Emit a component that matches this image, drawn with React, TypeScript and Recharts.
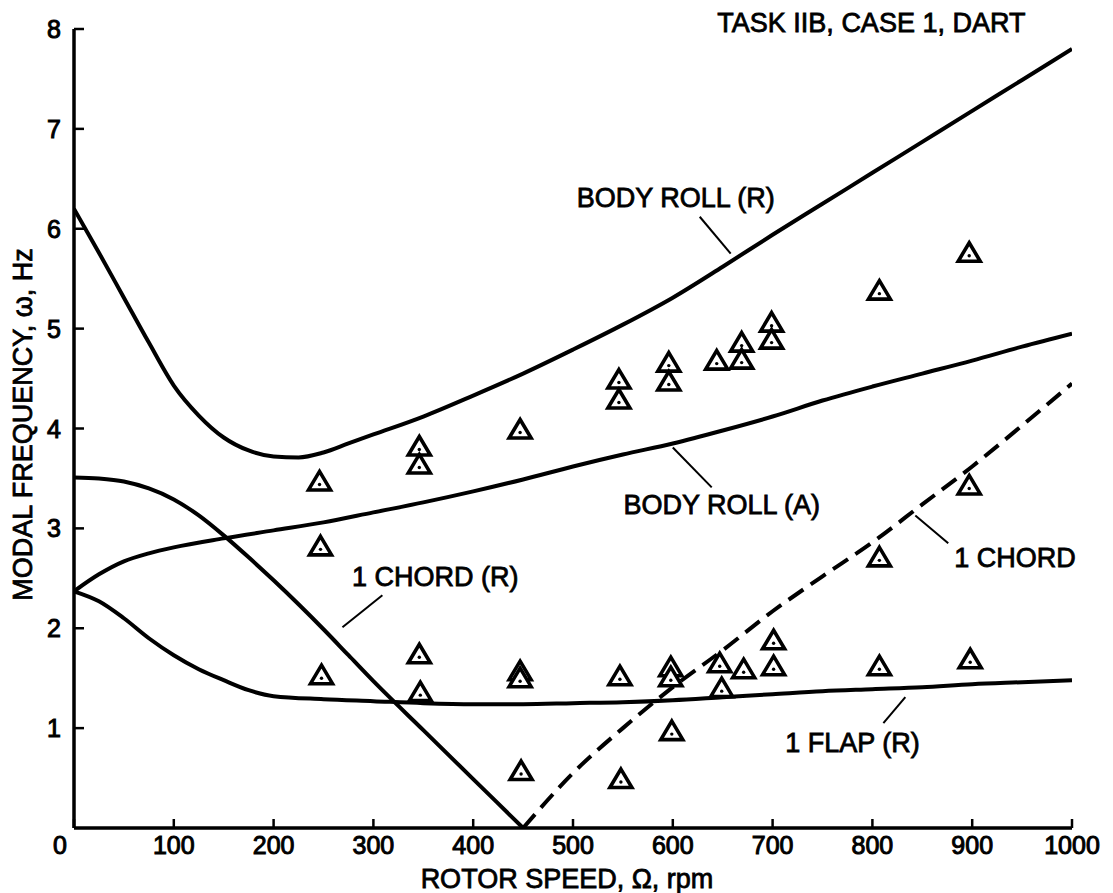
import React from 'react';
import { ComposedChart, Line, Scatter, XAxis, YAxis, ReferenceLine, ReferenceDot } from 'recharts';

const FONT = '"Liberation Sans", Arial, Helvetica, sans-serif';

// Curves (rotor speed rpm -> modal frequency Hz)
const bodyRollRRpm = [0, 25, 50, 75, 100, 125, 150, 175, 200, 225, 250, 275, 300, 350, 400, 450, 500, 550, 600, 650, 700, 750, 800, 850, 900, 950, 1000];
const bodyRollRHz = [6.2, 5.76, 5.31, 4.86, 4.43, 4.13, 3.91, 3.78, 3.72, 3.71, 3.76, 3.85, 3.94, 4.12, 4.33, 4.55, 4.79, 5.04, 5.31, 5.62, 5.94, 6.25, 6.56, 6.87, 7.18, 7.49, 7.8];

const bodyRollARpm = [0, 25, 50, 75, 100, 150, 200, 250, 300, 350, 400, 450, 500, 550, 600, 650, 700, 750, 800, 850, 900, 950, 1000];
const bodyRollAHz = [2.37, 2.54, 2.67, 2.75, 2.81, 2.9, 2.98, 3.06, 3.16, 3.26, 3.37, 3.49, 3.62, 3.74, 3.85, 3.98, 4.12, 4.28, 4.42, 4.55, 4.68, 4.82, 4.95];

const chordRRpm = [0, 25, 50, 75, 100, 125, 150, 175, 200, 225, 250, 275, 300, 350, 400, 450];
const chordRHz = [3.51, 3.5, 3.47, 3.4, 3.29, 3.13, 2.93, 2.71, 2.48, 2.24, 1.99, 1.73, 1.47, 0.98, 0.49, 0];

const chordARpm = [450, 500, 550, 600, 650, 700, 750, 800, 850, 900, 950, 1000];
const chordAHz = [0, 0.55, 1.0, 1.41, 1.78, 2.17, 2.52, 2.86, 3.24, 3.62, 4.03, 4.45];

const flapRRpm = [0, 25, 50, 75, 100, 125, 150, 175, 200, 250, 300, 350, 400, 450, 500, 550, 600, 650, 700, 750, 800, 850, 900, 950, 1000];
const flapRHz = [2.37, 2.27, 2.1, 1.9, 1.73, 1.59, 1.48, 1.38, 1.32, 1.29, 1.27, 1.25, 1.24, 1.24, 1.25, 1.26, 1.28, 1.31, 1.34, 1.37, 1.39, 1.41, 1.44, 1.46, 1.48];

// Test data (triangles)
const testRpm = [246, 247, 248, 346, 346, 346, 347, 447, 447, 447, 448, 546, 546, 547, 548, 596, 596, 598, 598, 599, 644, 647, 649, 669, 669, 671, 699, 699, 701, 701, 807, 807, 807, 897, 897, 898];
const testHz = [3.46, 2.81, 1.52, 3.81, 3.63, 1.73, 1.35, 3.98, 1.56, 1.49, 0.56, 4.48, 4.28, 1.51, 0.48, 4.65, 4.46, 1.6, 1.5, 0.96, 4.67, 1.64, 1.39, 4.85, 4.68, 1.58, 5.05, 4.88, 1.87, 1.61, 5.37, 2.7, 1.61, 5.75, 3.42, 1.68];

const xTicks = [0, 100, 200, 300, 400, 500, 600, 700, 800, 900, 1000];
const yTicks = [1, 2, 3, 4, 5, 6, 7, 8];

// Annotations: label text, label position (rpm, Hz), leader line endpoints
const labelTexts = ['BODY ROLL (R)', 'BODY ROLL (A)', '1 CHORD (R)', '1 CHORD', '1 FLAP (R)'];
const labelRpm = [603, 649, 362, 943, 780];
const labelHz = [6.31, 3.23, 2.51, 2.7, 0.85];
const leaderFrom = [[627, 6.12], [600, 3.81], [309, 2.33], [843, 3.13], [833, 1.31]];
const leaderTo = [[658, 5.75], [639, 3.41], [269, 2.01], [876, 2.85], [811, 1.05]];

const titleText = 'TASK IIB, CASE 1, DART';
const xTitle = 'ROTOR SPEED, \u03A9, rpm';
const yTitle = 'MODAL FREQUENCY, \u03C9, Hz';

// inward tick mark lengths, in axis units
const xTickLen = 0.09;
const yTickLen = 10;

const zip = (xs: number[], ys: number[]) => xs.map((x, i) => ({ x, y: ys[i] }));

const bodyRollR = zip(bodyRollRRpm, bodyRollRHz);
const bodyRollA = zip(bodyRollARpm, bodyRollAHz);
const chordR = zip(chordRRpm, chordRHz);
const chordA = zip(chordARpm, chordAHz);
const flapR = zip(flapRRpm, flapRHz);
const tests = zip(testRpm, testHz);

const textStyle = { fontFamily: FONT, fontSize: 27, fill: '#000', stroke: '#000', strokeWidth: 0.8 };
const tickStyle = { fontFamily: FONT, fontSize: 25, fill: '#000', stroke: '#000', strokeWidth: 1 };

const XTick = (p: any) => {
  const v = p.payload.value;
  return (
    <text x={v === 0 ? p.x - 14 : p.x} y={p.y + 26} textAnchor="middle" {...tickStyle}>
      {v}
    </text>
  );
};

const YTick = (p: any) => (
  <text x={p.x - 13} y={p.y + 9} textAnchor="end" {...tickStyle}>
    {p.payload.value}
  </text>
);

const XTitle = (p: any) => {
  const vb = p.viewBox || { x: 74, y: 828, width: 998, height: 65 };
  return (
    <text x={vb.x + vb.width / 2 - 6} y={vb.y + 60} textAnchor="middle" {...textStyle}>
      {xTitle}
    </text>
  );
};

const YTitle = (p: any) => {
  const vb = p.viewBox || { x: 0, y: 29, width: 74, height: 799 };
  const cx = vb.x + 23;
  const cy = vb.y + vb.height / 2 - 4;
  return (
    <text x={cx} y={cy} textAnchor="middle" dominantBaseline="central" transform={`rotate(-90, ${cx}, ${cy})`} {...textStyle}>
      {yTitle}
    </text>
  );
};

const Triangle = (p: any) => {
  const { cx, cy } = p;
  if (cx == null || cy == null) return null;
  const d = `M ${cx} ${cy - 11} L ${cx + 11} ${cy + 7.5} L ${cx - 11} ${cy + 7.5} Z`;
  return (
    <g>
      <path d={d} fill="#fff" stroke="#000" strokeWidth={3.6} strokeLinejoin="miter" />
      <circle cx={cx} cy={cy + 2} r={1.7} fill="#000" />
    </g>
  );
};

const makeText = (txt: string) => (p: any) => (
  <text x={p.cx} y={p.cy} textAnchor="middle" dominantBaseline="central" {...textStyle}>
    {txt}
  </text>
);

export default function App() {
  return (
    <div style={{ position: 'absolute', left: 0, top: 0, background: '#fff' }}>
      <ComposedChart width={1113} height={893} margin={{ top: 29, right: 41, bottom: 0, left: 0 }}>
        <XAxis dataKey="x" type="number" domain={[0, 1000]} ticks={xTicks} allowDataOverflow height={65}
          axisLine={{ stroke: '#000', strokeWidth: 3.5 }} tickLine={false} tickSize={0} tickMargin={0}
          tick={<XTick />} interval={0} label={<XTitle />} />
        <YAxis dataKey="y" type="number" domain={[0, 8]} ticks={yTicks} allowDataOverflow width={74}
          axisLine={{ stroke: '#000', strokeWidth: 3.5 }} tickLine={false} tickSize={0} tickMargin={0}
          tick={<YTick />} interval={0} label={<YTitle />} />
        {xTicks.map((v) => (
          <ReferenceLine key={'xt' + v} segment={[{ x: v, y: 0 }, { x: v, y: xTickLen }]} stroke="#000" strokeWidth={2.5} ifOverflow="visible" />
        ))}
        {yTicks.map((v) => (
          <ReferenceLine key={'yt' + v} segment={[{ x: 0, y: v }, { x: yTickLen, y: v }]} stroke="#000" strokeWidth={2.5} ifOverflow="visible" />
        ))}
        <Line data={bodyRollR} dataKey="y" type="monotone" stroke="#000" strokeWidth={4} dot={false} isAnimationActive={false} />
        <Line data={bodyRollA} dataKey="y" type="monotone" stroke="#000" strokeWidth={4} dot={false} isAnimationActive={false} />
        <Line data={chordR} dataKey="y" type="monotone" stroke="#000" strokeWidth={4} dot={false} isAnimationActive={false} />
        <Line data={chordA} dataKey="y" type="monotone" stroke="#000" strokeWidth={4} strokeDasharray="18 9" dot={false} isAnimationActive={false} />
        <Line data={flapR} dataKey="y" type="monotone" stroke="#000" strokeWidth={4} dot={false} isAnimationActive={false} />
        {leaderFrom.map((f, i) => (
          <ReferenceLine key={'l' + i} segment={[{ x: f[0], y: f[1] }, { x: leaderTo[i][0], y: leaderTo[i][1] }]} stroke="#000" strokeWidth={2} />
        ))}
        <Scatter data={tests} shape={<Triangle />} isAnimationActive={false} />
        {labelTexts.map((t, i) => (
          <ReferenceDot key={'t' + i} x={labelRpm[i]} y={labelHz[i]} r={0} ifOverflow="visible" shape={makeText(t)} />
        ))}
        <ReferenceDot x={799} y={8.06} r={0} ifOverflow="visible" shape={makeText(titleText)} />
      </ComposedChart>
    </div>
  );
}
